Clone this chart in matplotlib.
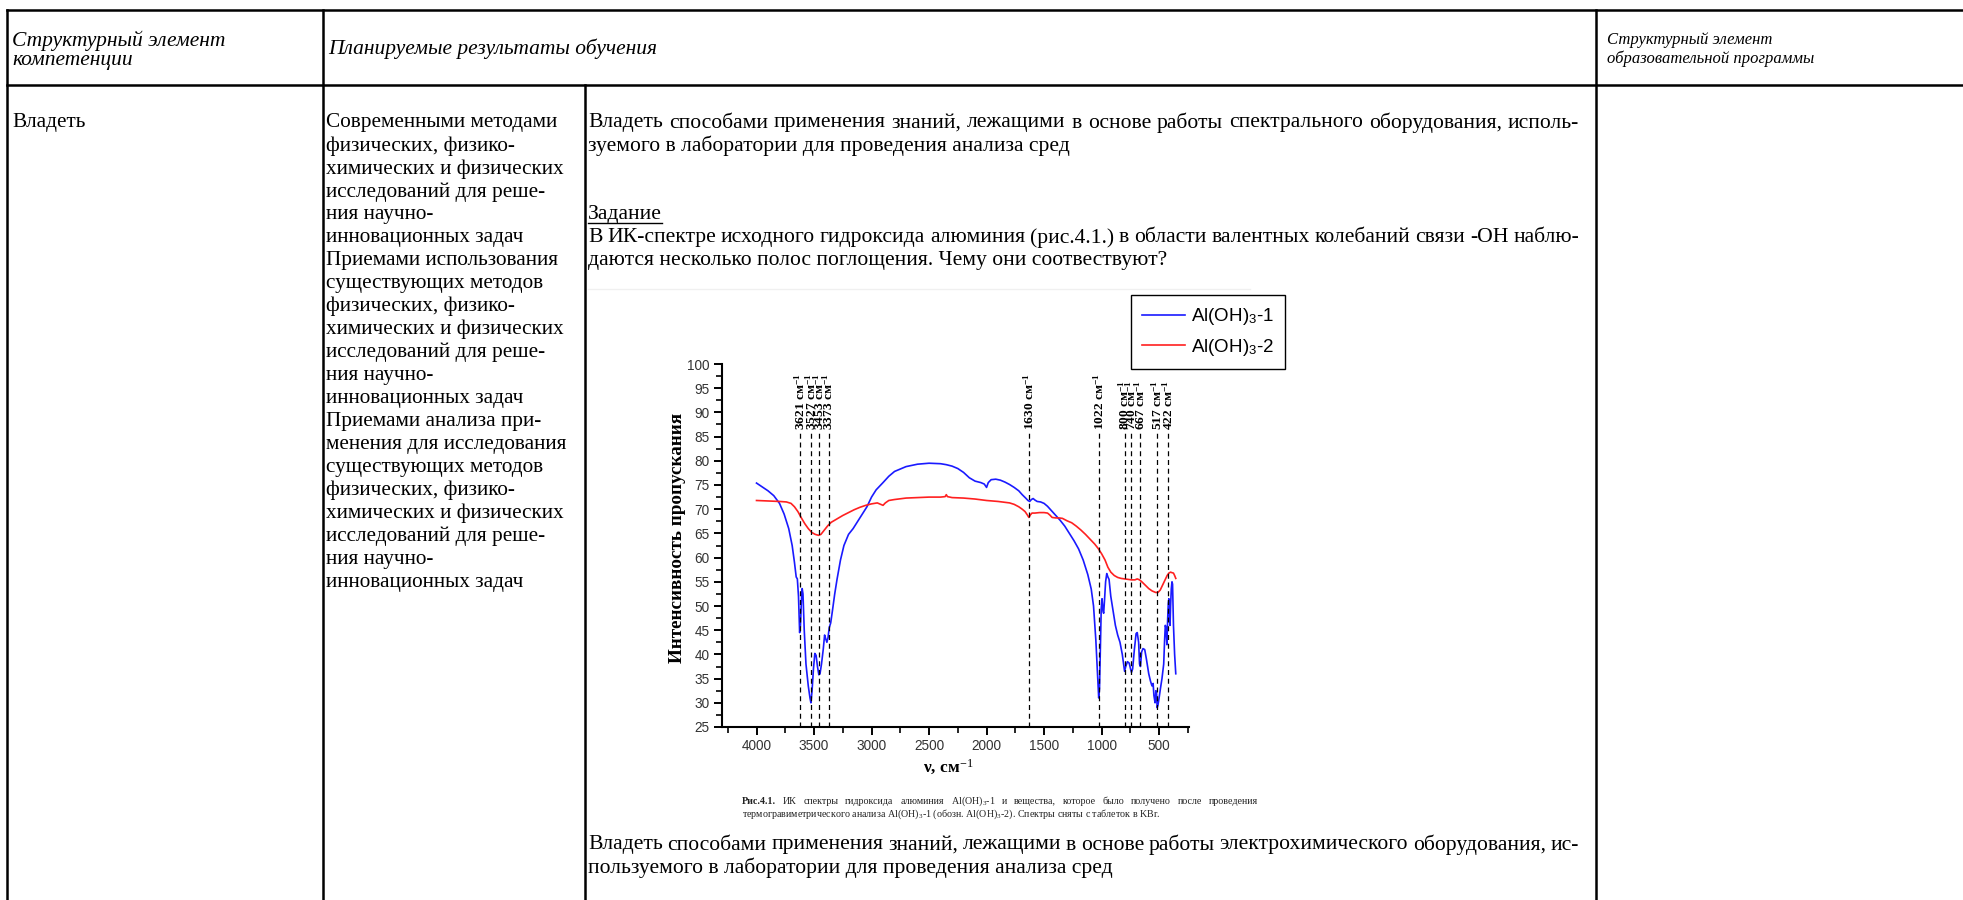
import matplotlib
matplotlib.use("Agg")
import matplotlib.pyplot as plt
from matplotlib.ticker import MultipleLocator

plt.rcParams['mathtext.fontset'] = 'custom'
plt.rcParams['mathtext.rm'] = 'Liberation Serif'
plt.rcParams['mathtext.bf'] = 'Liberation Serif:bold'
plt.rcParams['mathtext.it'] = 'Liberation Serif:italic'
plt.rcParams['mathtext.sf'] = 'Liberation Sans'

# ---- IR spectrum data (wavenumber, transmittance) ----
nu_1 = [4000, 3950, 3900, 3850, 3800, 3760, 3720, 3690, 3670, 3655, 3645, 3635, 3625, 3618,
        3610, 3603, 3596, 3585, 3570, 3550, 3535, 3527, 3517, 3505, 3493, 3482, 3470, 3458,
        3448, 3435, 3420, 3408, 3398, 3388, 3378, 3368, 3355, 3340, 3320, 3300, 3270, 3240,
        3200, 3160, 3120, 3080, 3040, 3000, 2960, 2900, 2850, 2800, 2700, 2600, 2500, 2400,
        2350, 2300, 2250, 2200, 2150, 2100, 2050, 2020, 2000, 1985, 1960, 1920, 1880, 1840,
        1800, 1760, 1720, 1690, 1660, 1640, 1625, 1610, 1595, 1580, 1560, 1530, 1500, 1470,
        1440, 1400, 1360, 1320, 1280, 1240, 1200, 1160, 1120, 1090, 1070, 1050, 1035, 1025,
        1018, 1010, 1003, 996, 988, 982, 975, 965, 955, 945, 935, 920, 900, 880, 860, 840,
        820, 800, 790, 775, 760, 748, 740, 730, 715, 700, 690, 678, 670, 662, 652, 640, 625,
        610, 590, 575, 562, 552, 545, 535, 528, 522, 517, 510, 500, 488, 475, 460, 452, 446,
        440, 432, 426, 420, 415, 410, 405, 400, 394, 388, 383, 375, 365, 355]
tr_1 = [75.4, 74.6, 73.8, 72.8, 71.2, 69.0, 66.0, 62.5, 59.0, 56.0, 55.6, 52.0, 44.5, 46.0,
        51.0, 53.6, 52.5, 45.0, 38.0, 33.5, 31.0, 30.0, 32.5, 37.0, 40.2, 39.8, 37.5, 35.8,
        36.0, 38.0, 41.0, 44.0, 43.2, 42.5, 43.5, 45.5, 46.5, 49.0, 52.5, 55.5, 59.5, 62.5,
        64.8, 66.0, 67.5, 69.0, 70.5, 72.5, 74.0, 75.5, 76.8, 77.8, 78.8, 79.3, 79.5, 79.4,
        79.2, 78.9, 78.4, 77.6, 76.5, 75.8, 75.5, 75.2, 74.5, 75.5, 76.1, 76.2, 76.0, 75.6,
        75.1, 74.5, 73.8, 73.0, 72.3, 71.8, 71.6, 72.0, 72.2, 71.9, 71.6, 71.5, 71.2, 70.6,
        69.8, 68.7, 67.7, 66.5, 65.0, 63.5, 61.8, 59.5, 56.5, 53.5, 50.0, 43.0, 36.0, 31.0,
        33.0, 42.0, 49.5, 51.5, 49.0, 48.5, 51.0, 55.0, 56.7, 56.0, 55.5, 52.0, 49.0, 46.0, 44.0, 42.5,
        40.0, 36.5, 37.5, 38.5, 38.2, 37.0, 36.3, 37.0, 41.0, 44.3, 44.5, 42.5, 38.0, 37.5, 40.5, 41.2, 41.0,
        39.0, 36.0, 34.5, 33.5, 34.0, 31.5, 30.0, 32.5, 32.0, 29.0, 29.5, 31.0, 33.0, 35.0, 38.0, 43.0, 46.0,
        45.5, 42.0, 47.0, 50.5, 51.5, 48.0, 46.0, 50.0, 53.5, 55.0, 54.5, 46.0, 40.0, 36.0]

nu_2 = [4000, 3900, 3800, 3740, 3700, 3670, 3640, 3610, 3580, 3550, 3520, 3490, 3460, 3440,
        3420, 3400, 3380, 3350, 3300, 3250, 3200, 3150, 3100, 3050, 3000, 2950, 2920, 2900,
        2880, 2850, 2800, 2700, 2600, 2500, 2400, 2360, 2350, 2340, 2300, 2200, 2100, 2000,
        1900, 1800, 1760, 1720, 1690, 1665, 1645, 1632, 1620, 1605, 1580, 1540, 1500, 1470,
        1450, 1430, 1400, 1370, 1340, 1300, 1260, 1220, 1180, 1140, 1100, 1060, 1030, 1000,
        970, 945, 920, 890, 860, 830, 800, 770, 740, 710, 690, 670, 650, 620, 590, 560, 530,
        510, 490, 470, 450, 430, 415, 400, 390, 375, 365, 355]
tr_2 = [71.8, 71.7, 71.6, 71.5, 71.2, 70.5, 69.5, 68.2, 67.0, 66.0, 65.2, 64.8, 64.6, 64.8,
        65.4, 66.0, 66.6, 67.3, 68.0, 68.7, 69.3, 69.9, 70.4, 70.8, 71.1, 71.3, 71.0, 70.8,
        71.3, 71.8, 72.0, 72.3, 72.4, 72.5, 72.5, 72.6, 73.0, 72.6, 72.4, 72.3, 72.1, 71.8,
        71.6, 71.3, 71.0, 70.5, 70.0, 69.5, 68.8, 68.3, 68.8, 69.2, 69.2, 69.3, 69.3, 69.2,
        68.8, 68.3, 68.2, 68.2, 68.1, 67.6, 67.2, 66.5, 65.7, 64.8, 63.8, 62.8, 61.9, 60.8,
        59.5, 58.0, 57.0, 56.3, 55.9, 55.7, 55.6, 55.5, 55.4, 55.4, 55.6, 55.4, 55.0, 54.3, 53.6, 53.1, 52.8,
        52.8, 53.3, 54.3, 55.3, 56.3, 56.8, 57.0, 56.9, 56.8, 56.3, 55.7]

peaks = [3621, 3527, 3453, 3373, 1630, 1022, 800, 740, 667, 517, 422]
series_names = ['Al(OH)$_\\mathsf{3}$-1', 'Al(OH)$_\\mathsf{3}$-2']
y_ticks = list(range(25, 101, 5))
x_ticks = [4000, 3500, 3000, 2500, 2000, 1500, 1000, 500]

# ---- table texts ----
head_1 = ['Структурный элемент', 'компетенции']
head_2 = 'Планируемые результаты обучения'
head_3 = ['Структурный элемент', 'образовательной программы']
col1_text = 'Владеть'
col2_lines = ['Современными методами', 'физических, физико-', 'химических и физических',
              'исследований для реше-', 'ния научно-', 'инновационных задач',
              'Приемами использования', 'существующих методов', 'физических, физико-',
              'химических и физических', 'исследований для реше-', 'ния научно-',
              'инновационных задач', 'Приемами анализа при-', 'менения для исследования',
              'существующих методов', 'физических, физико-', 'химических и физических',
              'исследований для реше-', 'ния научно-', 'инновационных задач']
col3_top = ['Владеть способами применения знаний, лежащими в основе работы спектрального оборудования, исполь-',
            'зуемого в лаборатории для проведения анализа сред']
task_title = 'Задание'
task_lines = ['В ИК-спектре исходного гидроксида алюминия (рис.4.1.) в области валентных колебаний связи -ОН наблю-',
              'даются несколько полос поглощения. Чему они соотвествуют?']
col3_bottom = ['Владеть способами применения знаний, лежащими в основе работы электрохимического оборудования, ис-',
               'пользуемого в лаборатории для проведения анализа сред']
caption_1 = 'Рис.4.1. ИК спектры гидроксида алюминия Al(OH)$_\\mathrm{3}$-1 и вещества, которое было получено после проведения'
caption_2 = 'термогравиметрического анализа Al(OH)$_\\mathrm{3}$-1 (обозн. Al(OH)$_\\mathrm{3}$-2). Спектры сняты с таблеток в KBr.'

W, H = 1963, 900
fig = plt.figure(figsize=(W / 100, H / 100), dpi=100)
tb = fig.add_axes([0, 0, 1, 1])
tb.set_xlim(0, W)
tb.set_ylim(H, 0)
tb.axis('off')
r = fig.canvas.get_renderer()

serif = 'Liberation Serif'
sans = 'Liberation Sans'


def justify(s, x0, x1, y, fs, first_bold=False, color='black'):
    words = s.split(' ')
    objs = [tb.text(0, y, w, fontsize=fs, family=serif, va='center', color=color,
                    weight='bold' if (first_bold and k == 0) else 'normal')
            for k, w in enumerate(words)]
    widths = [o.get_window_extent(r).width for o in objs]
    gap = (x1 - x0 - sum(widths)) / (len(words) - 1)
    x = x0
    for o, wd in zip(objs, widths):
        o.set_x(x)
        x += wd + gap


# table grid
lw = 1.8
tb.plot([7, W], [10, 10], color='black', lw=lw)
tb.plot([7, W], [85, 85], color='black', lw=lw)
for x in [7, 323, 1596]:
    tb.plot([x, x], [10, H], color='black', lw=lw)
tb.plot([585, 585], [85, H], color='black', lw=lw)

# headers
for i, s in enumerate(head_1):
    tb.text(12, 41 + i * 19, s, fontsize=15.5, family=serif, style='italic', va='center')
tb.text(328, 49, head_2, fontsize=15.5, family=serif, style='italic', va='center')
for i, s in enumerate(head_3):
    tb.text(1607, 40 + i * 19, s, fontsize=12, family=serif, style='italic', va='center')

# body
line_h = 22.95
y0 = 123
fs2 = 15.3
tb.text(12, y0, col1_text, fontsize=fs2, family=serif, va='center')
for i, s in enumerate(col2_lines):
    tb.text(326, y0 + i * line_h, s, fontsize=fs2, family=serif, va='center')

c3 = 15.6
right3 = 1579
justify(col3_top[0], 588, right3, y0, c3)
tb.text(588, y0 + line_h, col3_top[1], fontsize=c3, family=serif, va='center')
t_task = tb.text(588, y0 + 4 * line_h, task_title, fontsize=c3, family=serif, va='center')
justify(task_lines[0], 588, right3, y0 + 5 * line_h, c3)
tb.text(588, y0 + 6 * line_h, task_lines[1], fontsize=c3, family=serif, va='center')
justify(col3_bottom[0], 588, right3, 845, c3)
tb.text(588, 845 + line_h, col3_bottom[1], fontsize=c3, family=serif, va='center')

# underline for the task title
bb = t_task.get_window_extent(r)
inv = tb.transData.inverted()
(ux0, uy), (ux1, _) = inv.transform([(bb.x0, bb.y0), (bb.x1, bb.y0)])
tb.plot([ux0, ux1], [uy - 1, uy - 1], color='black', lw=1)

# faint edge of the pasted figure
tb.plot([588, 1250], [289, 289], color='#f0f0f0', lw=1)

# ---- spectrum plot ----
ax = fig.add_axes([722 / W, 1 - 727 / H, 467 / W, 363 / H])
ax.plot(nu_1, tr_1, color='#1a1aff', lw=1.2, label=series_names[0])
ax.plot(nu_2, tr_2, color='#ff2020', lw=1.2, label=series_names[1])
ax.set_xlim(4300, 240)
ax.set_ylim(25, 100)
ax.set_xticks(x_ticks)
ax.set_yticks(y_ticks)
ax.xaxis.set_minor_locator(MultipleLocator(250))
ax.yaxis.set_minor_locator(MultipleLocator(2.5))
for sp in ['top', 'right']:
    ax.spines[sp].set_visible(False)
for sp in ['left', 'bottom']:
    ax.spines[sp].set_linewidth(1.5)
ax.tick_params(which='major', direction='out', length=6, width=1.4, labelsize=9.8, pad=3)
ax.tick_params(which='minor', direction='out', length=4, width=1.2)
for lab in ax.get_xticklabels() + ax.get_yticklabels():
    lab.set_family(sans)
    lab.set_color('#333333')
ax.patch.set_alpha(0)

for p in peaks:
    ax.plot([p, p], [25, 86.0], color='black', lw=0.9, ls=(0, (4, 3)))
    ax.text(p, 86.3, f'{p} см$^{{\\mathbf{{-1}}}}$', rotation=90, ha='center', va='bottom',
            fontsize=9.6, family=serif, weight='bold')

ax.text(-0.096, 0.52, 'Интенсивность пропускания', transform=ax.transAxes, rotation=90,
        ha='center', va='center', fontsize=13.8, family=serif, weight='bold')
ax.text(0.485, -0.11, 'ν, см$^{-1}$', transform=ax.transAxes, ha='center', va='center',
        fontsize=12.5, family=serif, weight='bold')

fig.legend(loc='upper left', bbox_to_anchor=(1131 / W, 1 - 295 / H), bbox_transform=fig.transFigure,
           fancybox=False, edgecolor='black', framealpha=1, prop={'family': sans, 'size': 13.5},
           handlelength=2.3, borderaxespad=0, borderpad=0.6, labelspacing=0.5, handletextpad=0.3)

# caption (first line justified)
justify(caption_1, 742, 1258, 801, 7.2, first_bold=True, color='#222222')
tb.text(742, 814, caption_2, fontsize=7.2, family=serif, va='center', color='#222222')

fig.savefig('out.png', dpi=100)
